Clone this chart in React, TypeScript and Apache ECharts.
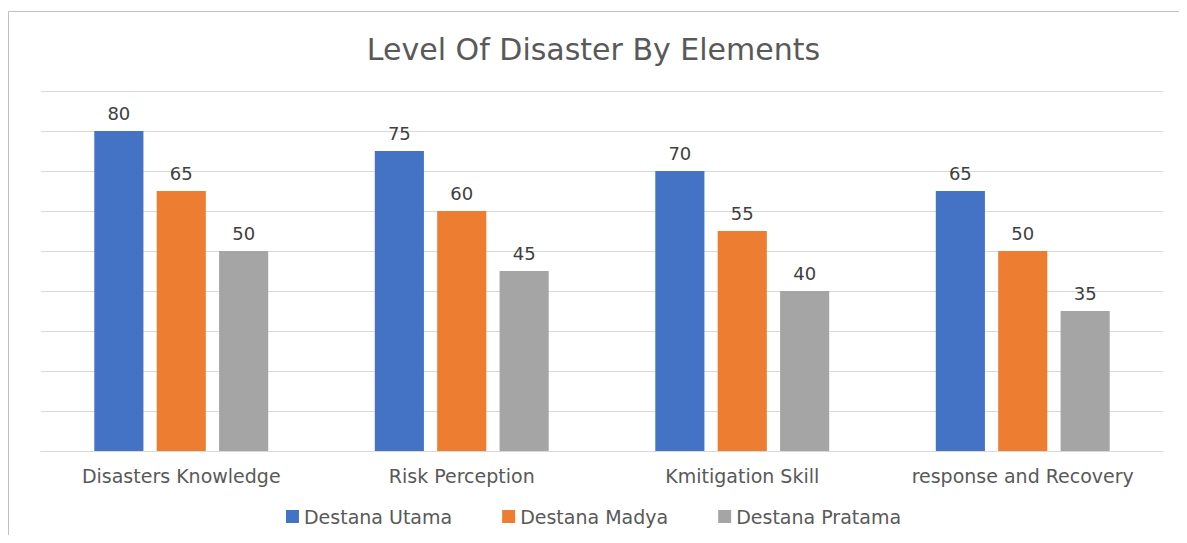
import React, { useEffect, useRef } from "react";
import * as echarts from "echarts";

const categories = ["Disasters Knowledge", "Risk Perception", "Kmitigation Skill", "response and Recovery"];
const seriesNames = ["Destana Utama", "Destana Madya", "Destana Pratama"];
const utama = [80, 75, 70, 65];
const madya = [65, 60, 55, 50];
const pratama = [50, 45, 40, 35];
const colors = ["#4472C4", "#ED7D31", "#A5A5A5"];

const FONT = "DejaVu Sans";

export default function App() {
  const ref = useRef<HTMLDivElement>(null);
  useEffect(() => {
    if (!ref.current) return;
    const chart = echarts.init(ref.current, null, { renderer: "svg" });
    const values = [utama, madya, pratama];
    chart.setOption({
      animation: false,
      backgroundColor: "#ffffff",
      title: {
        text: "Level Of Disaster By Elements",
        left: "center",
        top: 21,
        textStyle: { fontFamily: FONT, fontSize: 30, fontWeight: "normal", color: "#595959" },
      },
      legend: {
        data: seriesNames,
        bottom: 4,
        left: "center",
        itemWidth: 13,
        itemHeight: 13,
        itemGap: 50,
        icon: "rect",
        textStyle: { fontFamily: FONT, fontSize: 19, color: "#595959" },
      },
      grid: { left: 33, right: 16, top: 83, bottom: 84 },
      xAxis: {
        type: "category",
        data: categories,
        axisLine: { lineStyle: { color: "#D9D9D9", width: 1 } },
        axisTick: { show: false },
        axisLabel: { interval: 0, hideOverlap: false, fontFamily: FONT, fontSize: 19, color: "#595959", margin: 15 },
      },
      yAxis: {
        type: "value",
        min: 0,
        max: 90,
        interval: 10,
        axisLabel: { show: false },
        axisLine: { show: false },
        axisTick: { show: false },
        splitLine: { lineStyle: { color: "#D9D9D9", width: 1 } },
      },
      graphic: [
        { type: "line", shape: { x1: 0.5, y1: 3.5, x2: 1171, y2: 3.5 }, style: { stroke: "#BFBFBF", lineWidth: 1 } },
        { type: "line", shape: { x1: 0.5, y1: 3.5, x2: 0.5, y2: 527 }, style: { stroke: "#BFBFBF", lineWidth: 1 } },
      ],
      series: seriesNames.map((name, i) => ({
        name,
        type: "bar",
        data: values[i],
        barGap: "27%",
        barCategoryGap: "38%",
        itemStyle: { color: colors[i] },
        label: {
          show: true,
          position: "top",
          distance: 9,
          fontFamily: FONT,
          fontSize: 18,
          color: "#404040",
        },
      })),
    });
    return () => chart.dispose();
  }, []);
  return <div ref={ref} style={{ width: 1171, height: 527 }} />;
}
